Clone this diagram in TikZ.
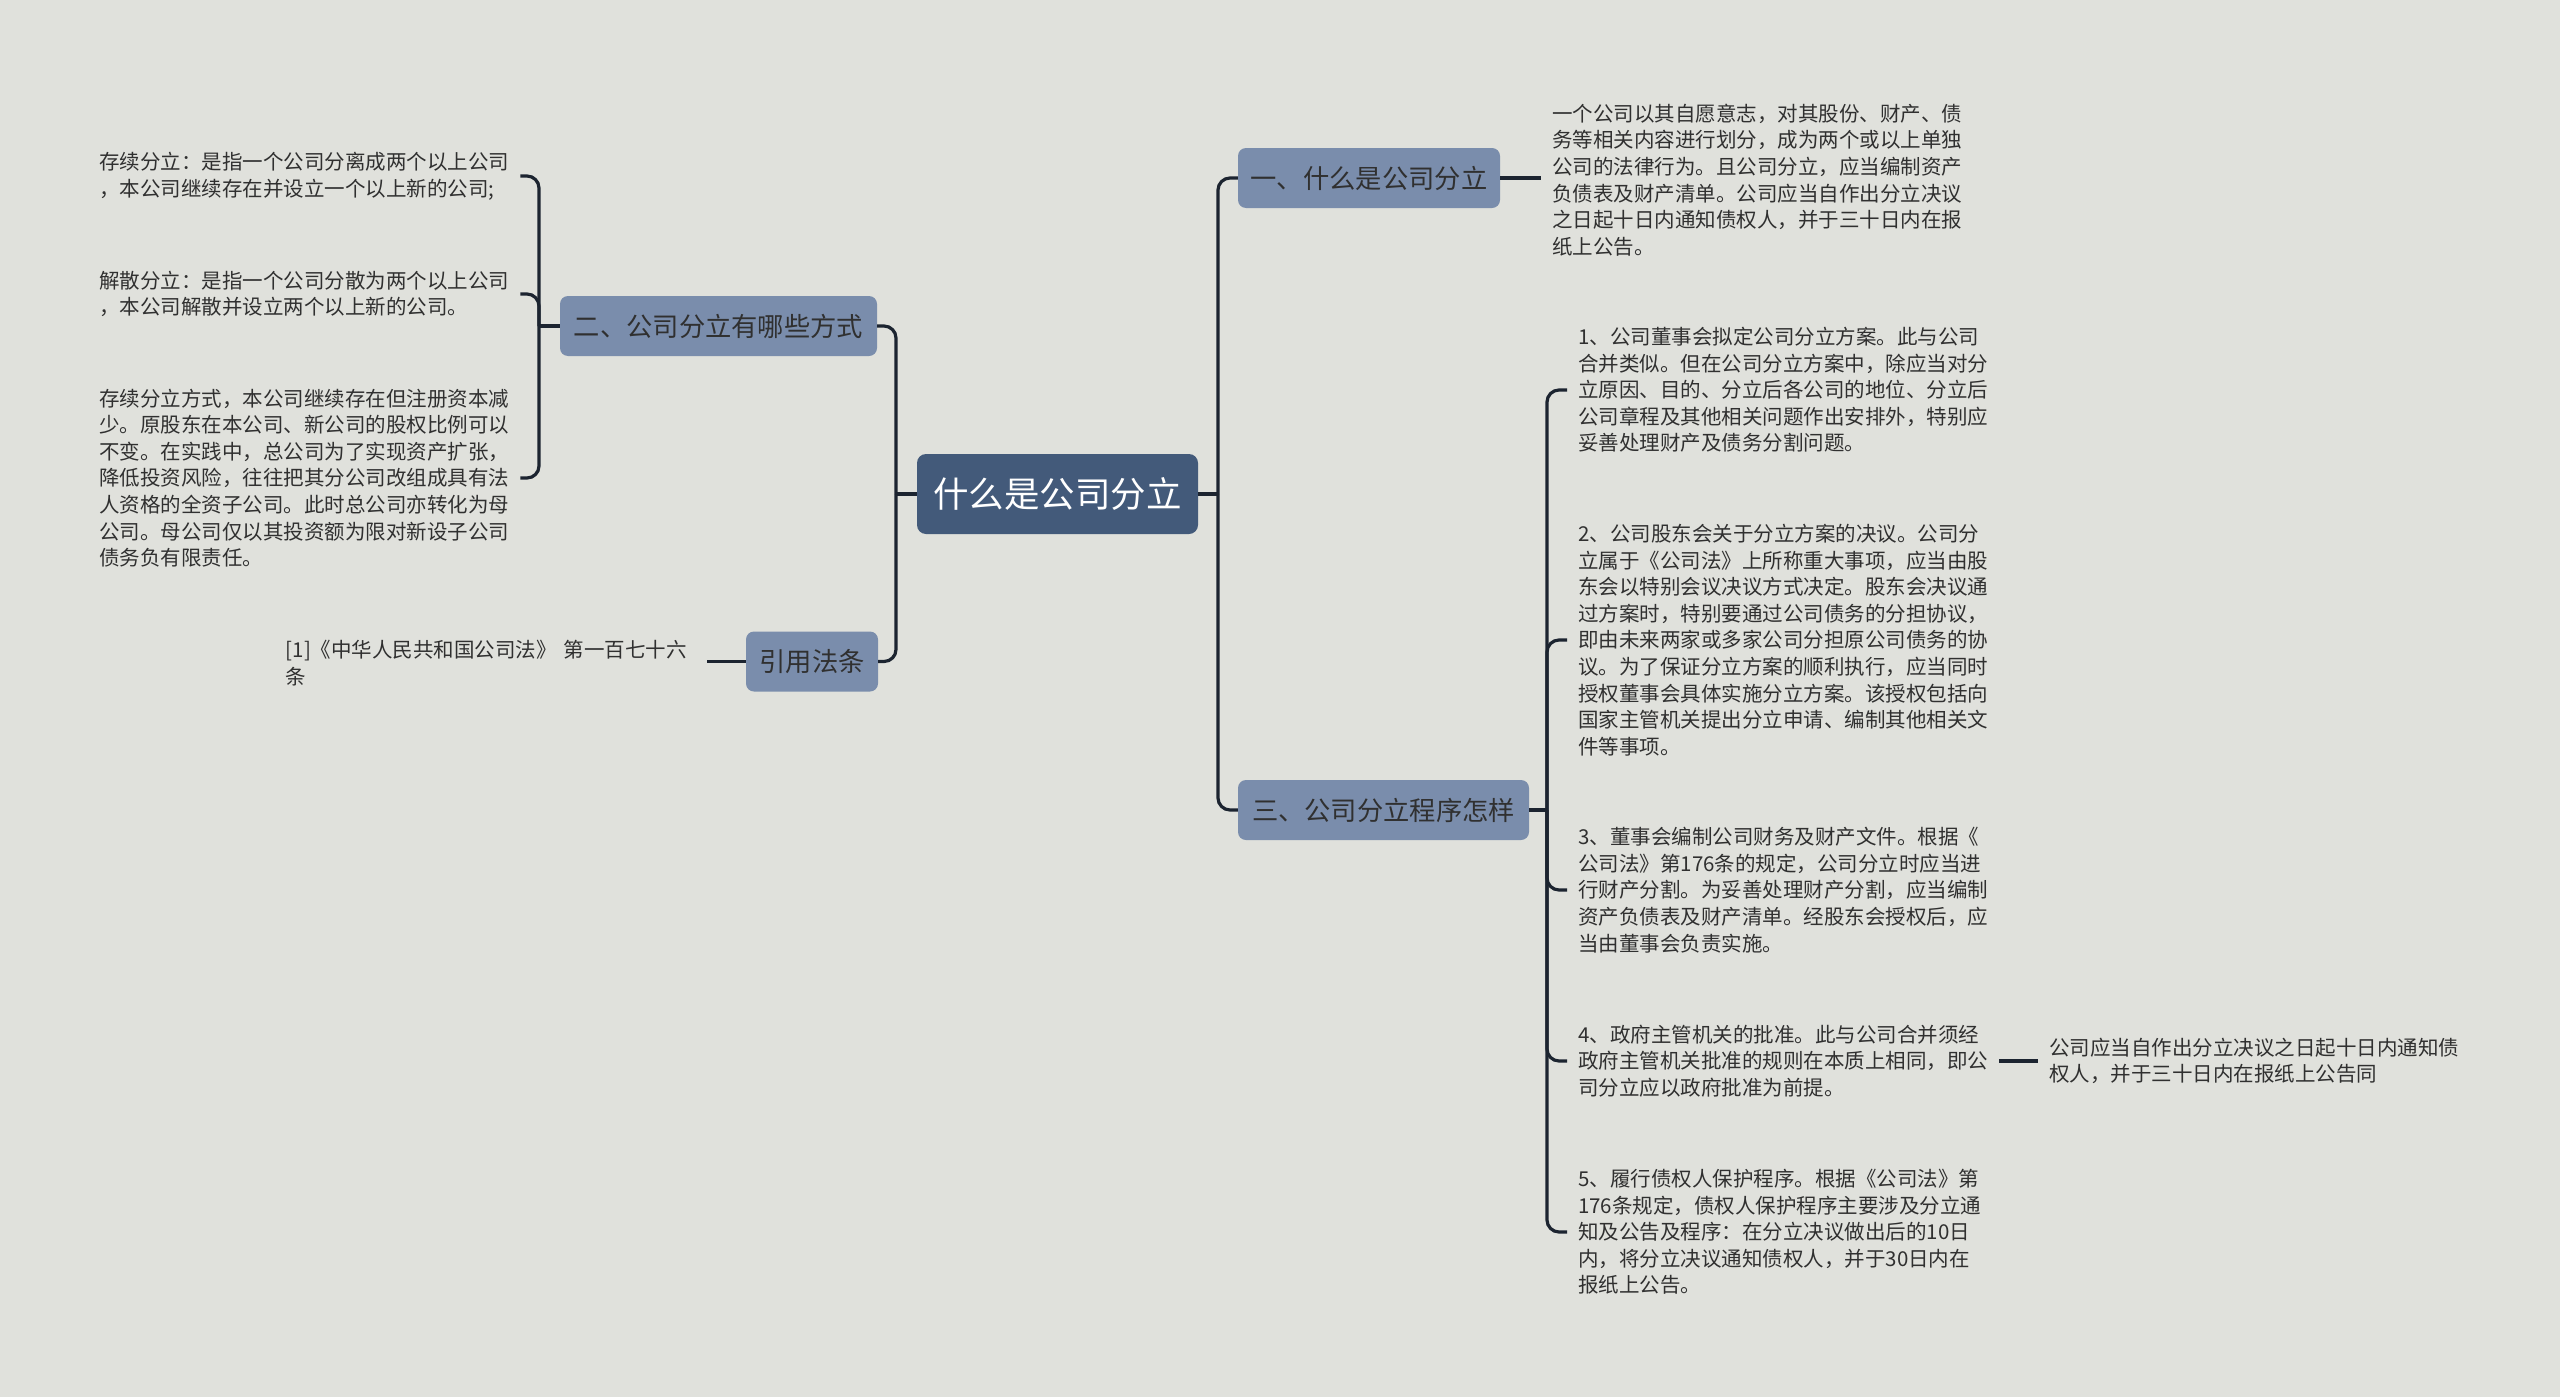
\documentclass[tikz,border=0pt]{standalone}
\usepackage{fontspec}
\setmainfont{Noto Sans CJK SC}
\definecolor{bgC}{HTML}{E0E1DC}
\definecolor{rootC}{HTML}{435A7A}
\definecolor{topicC}{HTML}{7A8DAC}
\definecolor{lineC}{HTML}{1C2430}
\definecolor{txtC}{HTML}{303030}
\tikzset{
  conn/.style={draw=lineC, line width=3.2pt},
  rconn/.style={conn, rounded corners=12pt},
  rootbox/.style={fill=rootC, rounded corners=9pt, text=white, font=\fontsize{35.5}{40}\selectfont, minimum width=281pt, minimum height=80pt, inner sep=0pt},
  topicbox/.style={fill=topicC, rounded corners=8pt, text=txtC, font=\fontsize{26.3}{30}\selectfont, minimum height=60pt, inner sep=0pt},
  leaf/.style={text=txtC, font=\fontsize{20.5}{26.6}\selectfont, text width=410pt, align=left, inner xsep=11pt, inner ysep=3pt, anchor=west}
}
\begin{document}
\begin{tikzpicture}[x=1pt,y=-1pt]
\fill[bgC] (0,0) rectangle (2560,1397);
\useasboundingbox (0,0) rectangle (2560,1397);

% root and topics
\node[rootbox] (root) at (1057.5,494) {什么是公司分立};
\node[topicbox, minimum width=262pt] (t1) at (1369,178) {一、什么是公司分立};
\node[topicbox, minimum width=317pt] (t2) at (718.5,326) {二、公司分立有哪些方式};
\node[topicbox, minimum width=291pt] (t3) at (1383.5,810) {三、公司分立程序怎样};
\node[topicbox, minimum width=132pt] (tref) at (812,661.5) {引用法条};

% leaves of topic 1
\node[leaf] (l1) at (1541,180) {一个公司以其自愿意志，对其股份、财产、债\\
务等相关内容进行划分，成为两个或以上单独\\
公司的法律行为。且公司分立，应当编制资产\\
负债表及财产清单。公司应当自作出分立决议\\
之日起十日内通知债权人，并于三十日内在报\\
纸上公告。};

% leaves of topic 3
\node[leaf] (c1) at (1567,390) {1、公司董事会拟定公司分立方案。此与公司\\
合并类似。但在公司分立方案中，除应当对分\\
立原因、目的、分立后各公司的地位、分立后\\
公司章程及其他相关问题作出安排外，特别应\\
妥善处理财产及债务分割问题。};
\node[leaf] (c2) at (1567,640) {2、公司股东会关于分立方案的决议。公司分\\
立属于《公司法》上所称重大事项，应当由股\\
东会以特别会议决议方式决定。股东会决议通\\
过方案时，特别要通过公司债务的分担协议，\\
即由未来两家或多家公司分担原公司债务的协\\
议。为了保证分立方案的顺利执行，应当同时\\
授权董事会具体实施分立方案。该授权包括向\\
国家主管机关提出分立申请、编制其他相关文\\
件等事项。};
\node[leaf] (c3) at (1567,890) {3、董事会编制公司财务及财产文件。根据《\\
公司法》第176条的规定，公司分立时应当进\\
行财产分割。为妥善处理财产分割，应当编制\\
资产负债表及财产清单。经股东会授权后，应\\
当由董事会负责实施。};
\node[leaf] (c4) at (1567,1061) {4、政府主管机关的批准。此与公司合并须经\\
政府主管机关批准的规则在本质上相同，即公\\
司分立应以政府批准为前提。};
\node[leaf] (c5) at (1567,1232) {5、履行债权人保护程序。根据《公司法》第\\
176条规定，债权人保护程序主要涉及分立通\\
知及公告及程序：在分立决议做出后的10日\\
内，将分立决议通知债权人，并于30日内在\\
报纸上公告。};
\node[leaf] (c4a) at (2038,1061) {公司应当自作出分立决议之日起十日内通知债\\
权人，并于三十日内在报纸上公告同};

% leaves of topic 2
\node[leaf] (a1) at (88,176) {存续分立：是指一个公司分离成两个以上公司\\
，本公司继续存在并设立一个以上新的公司;};
\node[leaf] (a2) at (88,294) {解散分立：是指一个公司分散为两个以上公司\\
，本公司解散并设立两个以上新的公司。};
\node[leaf] (a3) at (88,478) {存续分立方式，本公司继续存在但注册资本减\\
少。原股东在本公司、新公司的股权比例可以\\
不变。在实践中，总公司为了实现资产扩张，\\
降低投资风险，往往把其分公司改组成具有法\\
人资格的全资子公司。此时总公司亦转化为母\\
公司。母公司仅以其投资额为限对新设子公司\\
债务负有限责任。};

% reference leaf
\node[leaf] (r1) at (274.5,663) {[1]《中华人民共和国公司法》 第一百七十六\\
条};

% junctions
\coordinate (jR) at (1218,494);
\coordinate (jL) at (896,494);
\coordinate (j2) at (539,326);
\coordinate (j3) at (1547,810);

% connectors
\draw[conn] (root.east) -- (jR);
\draw[rconn] (jR) |- (t1.west);
\draw[rconn] (jR) |- (t3.west);
\draw[conn] (root.west) -- (jL);
\draw[rconn] (jL) |- (t2.east);
\draw[rconn] (jL) |- (tref.east);

\draw[conn] (t1.east) -- (t1.east -| l1.west);

\draw[conn] (t3.east) -- (j3);
\draw[rconn] (j3) |- (c1.west);
\draw[rconn] (j3) |- (c2.west);
\draw[rconn] (j3) |- (c3.west);
\draw[rconn] (j3) |- (c4.west);
\draw[rconn] (j3) |- (c5.west);
\draw[conn] (c4.east) -- (c4a.west);

\draw[conn] (t2.west) -- (j2);
\draw[rconn] (j2) |- (a1.east);
\draw[rconn] (j2) |- (a2.east);
\draw[rconn] (j2) |- (a3.east);

\draw[conn] (tref.west) -- (tref.west -| r1.east);
\end{tikzpicture}
\end{document}
